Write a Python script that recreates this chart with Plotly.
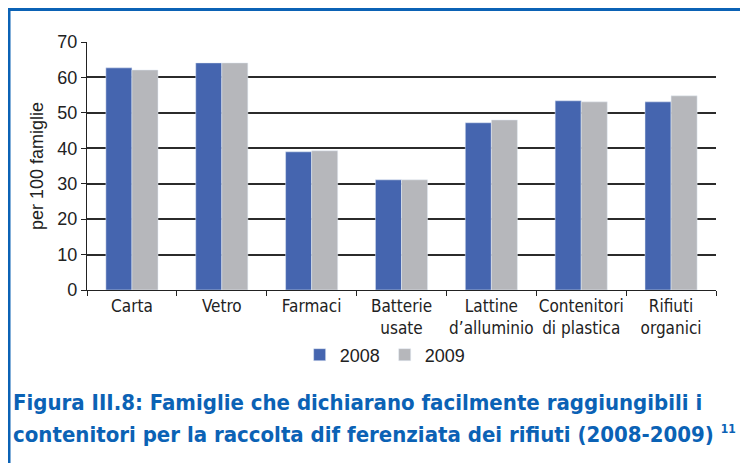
import plotly.graph_objects as go

categories = ["Carta", "Vetro", "Farmaci", "Batterie<br>usate", "Lattine<br>d’alluminio",
              "Contenitori<br>di plastica", "Rifiuti<br>organici"]
values_2008 = [62.7, 64.1, 39.0, 31.1, 47.2, 53.4, 53.1]
values_2009 = [62.1, 64.1, 39.3, 31.1, 48.0, 53.1, 54.8]
y_ticks = [0, 10, 20, 30, 40, 50, 60, 70]

title_1 = "Figura III.8: Famiglie che dichiarano facilmente raggiungibili i"
title_2 = ("contenitori per la raccolta dif ferenziata dei rifiuti (2008-2009) "
           "<sup><span style='font-size:12px'>11</span></sup>")

BLUE = "#4565AF"
GREY = "#B6B7BB"
FRAME = "#0B62B5"
FONT = "Liberation Sans, Arial, sans-serif"
NARROW = "DejaVu Sans Condensed, Liberation Sans Narrow, Liberation Sans, sans-serif"

fig = go.Figure()
fig.add_trace(go.Bar(x=categories, y=values_2008, name="2008", marker_color=BLUE))
fig.add_trace(go.Bar(x=categories, y=values_2009, name="2009", marker_color=GREY))

# page body has an 8px margin, so the figure is 8px smaller than the window
fig.update_layout(
    width=740, height=455,
    margin=dict(l=79, r=32, t=34, b=173),
    paper_bgcolor="white", plot_bgcolor="white",
    barmode="group", bargap=0.42, bargroupgap=0,
    font=dict(family=FONT, size=16, color="#222222"),
    legend=dict(orientation="h", x=0.474, y=-0.262, xanchor="center", yanchor="middle",
                font=dict(size=18), itemwidth=30, traceorder="normal"),
    showlegend=True,
)
fig.update_yaxes(
    range=[0, 70], tickvals=y_ticks, showgrid=True, gridcolor="#2b2b2b", gridwidth=1.6,
    showline=True, linecolor="#222222", linewidth=1.2, ticks="outside", ticklen=5,
    tickcolor="#222222", tickfont=dict(size=18), zeroline=False, automargin=False,
    title=dict(text="per 100 famiglie", font=dict(size=18), standoff=8),
)
fig.update_xaxes(
    showline=True, linecolor="#222222", linewidth=1.2, ticks="outside", ticklen=5,
    tickcolor="#222222", tickson="boundaries", automargin=False, tickangle=0,
    tickfont=dict(family=NARROW, size=17),
)

# blue frame around the figure
fig.add_shape(type="rect", xref="paper", yref="paper", x0=-0.124, x1=1.2, y0=-0.8, y1=1.131,
              line=dict(color=FRAME, width=3), layer="below")

fig.add_annotation(text=title_1, xref="paper", yref="paper", x=-0.121, y=-0.454,
                   xanchor="left", yanchor="middle", showarrow=False,
                   font=dict(family=NARROW, size=22, color=FRAME, weight="bold"))
fig.add_annotation(text=title_2, xref="paper", yref="paper", x=-0.121, y=-0.583,
                   xanchor="left", yanchor="middle", showarrow=False,
                   font=dict(family=NARROW, size=22, color=FRAME, weight="bold"))

fig.write_html("out.html")
